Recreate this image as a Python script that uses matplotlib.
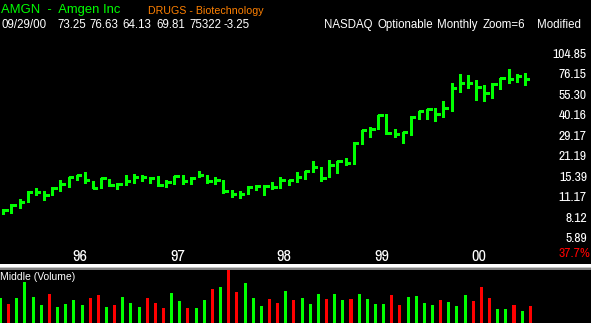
import numpy as np;
import matplotlib
matplotlib.use("Agg")
import matplotlib.pyplot as plt;
from matplotlib.patches import Rectangle
from matplotlib.ticker import NullLocator, NullFormatter, FixedLocator
import matplotlib.transforms as mtrans

# mesicni HLC bary (AMGN), od nejstarsiho
highs = [9.30, 9.94, 10.87, 12.18, 12.90, 12.31, 12.96, 14.62, 15.32, 15.80,
         16.38, 14.39, 15.08, 14.85, 13.95, 15.63, 15.88, 15.80, 15.15, 15.39,
         14.62, 15.56, 15.63, 15.15, 16.82, 15.80, 15.15, 14.62, 12.37, 12.18,
         13.17, 13.37, 13.37, 14.02, 15.15, 14.62, 16.38, 16.64, 19.45, 17.71,
         19.75, 19.66, 20.54, 26.36, 31.88, 33.05, 40.16, 40.79, 32.38, 30.66,
         39.54, 42.75, 44.31, 44.79, 49.83, 65.65, 76.15, 74.97, 68.60, 63.63,
         65.65, 71.54, 81.43, 76.15, 76.63]
lows = [8.55, 8.68, 9.39, 10.31, 11.57, 10.63, 11.57, 12.31, 13.02, 14.53,
        13.95, 12.82, 12.82, 13.31, 12.62, 13.44, 13.80, 14.24, 13.87, 13.31,
        12.96, 13.65, 13.73, 13.65, 15.15, 13.87, 13.65, 11.86, 11.14, 10.97,
        11.68, 12.51, 11.57, 12.62, 12.82, 13.52, 14.08, 14.76, 16.46, 14.39,
        15.22, 16.20, 18.40, 18.50, 25.47, 28.41, 32.18, 29.86, 28.41, 25.88,
        29.31, 37.55, 37.91, 36.74, 39.11, 42.82, 57.59, 61.30, 50.83, 50.05,
        52.44, 60.35, 65.77, 66.80, 64.13]
closes = [9.15, 9.90, 10.37, 12.12, 12.12, 11.57, 12.90, 13.73, 15.15, 15.80,
          14.62, 12.90, 14.92, 13.52, 13.58, 14.39, 15.27, 15.22, 14.99, 13.44,
          14.02, 15.39, 14.24, 14.99, 15.75, 14.24, 14.46, 12.31, 11.75, 11.75,
          12.96, 13.31, 13.31, 13.11, 14.62, 14.46, 15.32, 16.64, 17.90, 14.99,
          18.47, 19.66, 19.00, 25.96, 31.88, 32.38, 40.16, 30.09, 30.00, 30.52,
          38.93, 42.55, 43.90, 40.60, 44.58, 60.72, 65.65, 65.65, 61.68, 56.17,
          65.24, 71.54, 70.44, 73.35, 69.81]

# objem (mil. kusu) a jestli je bar zeleny (1) nebo cerveny (0)
volumes = [2.5, 1.9, 2.5, 4.1, 2.6, 1.8, 2.9, 1.6, 1.9, 2.3,
           1.8, 2.5, 2.8, 1.6, 1.8, 2.6, 2.0, 1.6, 2.5, 2.0,
           1.5, 3.0, 2.2, 1.5, 1.5, 2.3, 3.4, 3.6, 5.3, 3.1,
           4.0, 2.5, 1.7, 2.4, 2.0, 3.2, 2.3, 2.5, 1.9, 2.9,
           2.4, 2.9, 2.3, 2.4, 2.9, 2.4, 1.9, 1.9, 2.8, 1.8,
           2.6, 2.7, 2.0, 1.8, 2.3, 2.1, 1.7, 2.8, 2.2, 3.6,
           2.5, 1.4, 1.4, 1.8, 1.2, 1.7]
vol_up = [1, 0, 1, 1, 1, 1, 0, 1, 1, 1,
          1, 0, 0, 1, 0, 1, 1, 1, 0, 0,
          0, 1, 1, 0, 1, 1, 0, 1, 0, 0,
          1, 1, 1, 0, 0, 1, 0, 1, 1, 1,
          0, 1, 1, 0, 1, 1, 1, 1, 0, 0,
          1, 1, 1, 1, 0, 1, 1, 1, 0, 0,
          0, 1, 1, 0, 1, 0]

ytick_vals = [104.85, 76.15, 55.30, 40.16, 29.17, 21.19, 15.39, 11.17, 8.12, 5.89];
year_labels = ["96", "97", "98", "99", "00"];
year_tick_x = [9.4, 21.4, 34.4, 46.4, 58.4];

header_vals = ["09/29/00", "73.25", "76.63", "64.13", "69.81", "75322", "-3.25"];
header_info = ["NASDAQ", "Optionable", "Monthly", "Zoom=6", "Modified"];

GREEN = "#00ff00";
RED = "#ff0000";
W, H = 591, 323;

plt.rcParams["font.family"] = ["Liberation Sans", "DejaVu Sans"];
NARROW = ["Liberation Sans Narrow", "Archivo Narrow", "DejaVu Sans"];

fig = plt.figure(figsize=(W / 100, H / 100), dpi=100, facecolor="black");

def fx(px): return px / W;
def fy(py): return 1 - py / H;

axP = fig.add_axes([0, fy(264), fx(540), 1 - fy(264)], facecolor="black");
axV = fig.add_axes([0, 0, fx(540), fy(270)], facecolor="black");

idx = np.arange(len(closes));
axP.vlines(idx, lows, highs, color=GREEN, lw=1.0, antialiased=False);
axP.hlines(closes, idx, idx + 0.55, color=GREEN, lw=1.0, antialiased=False);

axP.set_yscale("log");
axP.set_ylim(3.917, 240.8);
axP.set_xlim(-0.405, 65.85);
axP.yaxis.set_major_locator(FixedLocator(ytick_vals));
axP.yaxis.set_minor_locator(NullLocator());
axP.yaxis.set_minor_formatter(NullFormatter());
axP.set_yticklabels(["%.2f" % v for v in ytick_vals]);
axP.yaxis.tick_right();
axP.tick_params(axis="y", length=0, pad=33.8, colors="white", labelsize=9.8);
for lab in axP.get_yticklabels():
    lab.set_horizontalalignment("right");
    lab.set_family(NARROW);
axP.set_xticks([]);
for s in axP.spines.values(): s.set_visible(False);

# roky dole v cenovem panelu
tr = mtrans.blended_transform_factory(axP.transData, axP.transAxes);
for x, t in zip(year_tick_x, year_labels):
    axP.text(x, 0.030, t, transform=tr, color="white", ha="center", va="center",
             fontsize=11.8, family=NARROW);

vidx = np.arange(len(volumes)) - 0.34;
vcol = [GREEN if u else RED for u in vol_up];
axV.bar(vidx, volumes, width=0.37, color=vcol, linewidth=0);
axV.set_xlim(-0.405, 65.85);
axV.set_ylim(0, 5.3);
axV.set_xticks([]); axV.set_yticks([]);
for s in axV.spines.values(): s.set_visible(False);

# oddelovac panelu
for y0, h, c in [(264, 2.5, "white"), (266.5, 1.5, "#c8c8c8"), (268, 2, "#808080")]:
    fig.add_artist(Rectangle((0, fy(y0 + h)), 1, h / H, transform=fig.transFigure,
                             color=c, lw=0));

fig.text(fx(1), fy(13.3), "AMGN  -  Amgen Inc", color=GREEN, fontsize=9.4, va="baseline");
fig.text(fx(148), fy(14.3), "DRUGS - Biotechnology", color="#ff8000", fontsize=7.7, va="baseline");

hx = [1.7, 57.3, 89.3, 122.7, 156, 189.3, 224];
for x, t in zip(hx, header_vals):
    fig.text(fx(x), fy(28.3), t, color="white", fontsize=8.3, va="baseline");
ix = [324, 377.7, 437.3, 482.7, 537.3];
for x, t in zip(ix, header_info):
    fig.text(fx(x), fy(28.3), t, color="white", fontsize=8.3, va="baseline");

fig.text(fx(590), fy(253.3), "37.7%", color=RED, fontsize=9.8, ha="right", va="center", family=NARROW);
fig.text(fx(0), fy(276.7), "Middle (Volume)", color="white", fontsize=7.5, va="center");

plt.savefig("out.png", dpi=100, facecolor="black");
